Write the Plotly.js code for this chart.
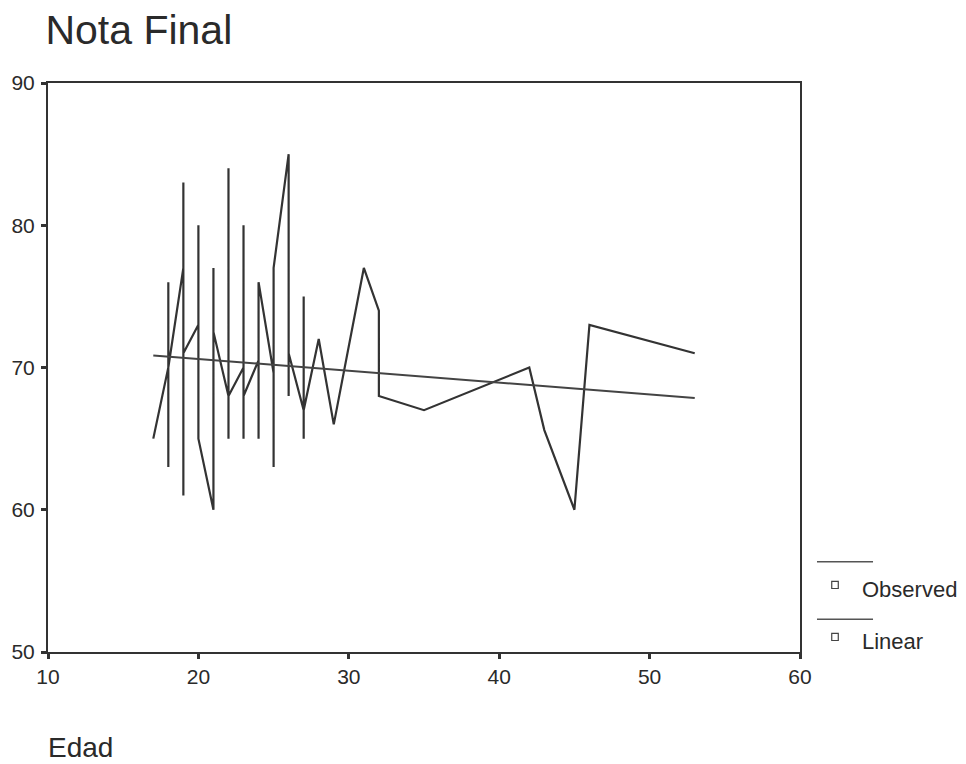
<!DOCTYPE html>
<html>
<head>
<meta charset="utf-8">
<script src="https://cdn.plot.ly/plotly-3.0.1.min.js"></script>
<style>html,body{margin:0;padding:0;background:#fff}#chart{width:966px;height:764px}</style>
</head>
<body>
<div id="chart"></div>
<script>
// Observed path (sorted by Edad; repeated ages form vertical runs)
var obsEdad = [17, 18, 18, 18, 18, 19, 19, 19, 19, 20, 20, 20, 21, 21, 21,
               22, 22, 22, 22, 23, 23, 23, 23, 24, 24, 24, 25, 25, 25,
               26, 26, 26, 27, 27, 27, 27, 28, 29, 31, 32, 32, 35, 42, 43, 45, 46, 53];
var obsNota = [65, 70, 76, 63, 70, 77, 83, 61, 71, 73, 80, 65, 60, 77, 72.5,
               68, 84, 65, 68, 70, 80, 65, 68, 70.5, 65, 76, 69.6, 63, 77,
               85, 68, 71, 67, 75, 65, 67, 72, 66, 77, 74, 68, 67, 70, 65.6, 60, 73, 71];
// Linear fit line
var linEdad = [17, 53];
var linNota = [70.85, 67.85];

var legendNames = ['Observed', 'Linear'];
var fam = 'Liberation Sans, Arial, sans-serif';
var axisFont = {family: fam, size: 21, color: '#2a2a2a'};

var traces = [
  {x: obsEdad, y: obsNota, type: 'scatter', mode: 'lines', name: legendNames[0],
   line: {color: '#333', width: 2.2}, showlegend: false},
  {x: linEdad, y: linNota, type: 'scatter', mode: 'lines', name: legendNames[1],
   line: {color: '#444', width: 2}, showlegend: false}
];

var leg = [
  {line: 0.1587, sq: 0.1178, txt: 0.1107, name: legendNames[0]},
  {line: 0.0575, sq: 0.0264, txt: 0.0176, name: legendNames[1]}
];
var shapes = [], annotations = [];
leg.forEach(function (l) {
  shapes.push({type: 'line', xref: 'paper', yref: 'paper', x0: 1.0226, x1: 1.0971, y0: l.line, y1: l.line,
               line: {color: '#555', width: 1.5}});
  shapes.push({type: 'rect', xref: 'paper', yref: 'paper', x0: 1.0422, x1: 1.0509, y0: l.sq - 0.0062, y1: l.sq + 0.0062,
               line: {color: '#444', width: 1.2}, fillcolor: 'rgba(0,0,0,0)'});
  annotations.push({xref: 'paper', yref: 'paper', x: 1.0798, y: l.txt, xanchor: 'left', yanchor: 'middle',
                    text: l.name, showarrow: false,
                    font: {family: fam, size: 22, color: '#2a2a2a'}});
});
annotations.push({xref: 'paper', yref: 'paper', x: -0.002, y: -0.167, xanchor: 'left', yanchor: 'middle',
                  text: 'Edad', showarrow: false,
                  font: {family: fam, size: 28, color: '#2a2a2a'}});

var layout = {
  width: 966, height: 764,
  paper_bgcolor: '#fff', plot_bgcolor: '#fff',
  margin: {l: 48, r: 166, t: 83, b: 112},
  title: {text: 'Nota Final', xref: 'container', yref: 'container', x: 0.047, xanchor: 'left',
          y: 0.9607, yanchor: 'middle',
          font: {family: fam, size: 41, color: '#2a2a2a'}},
  xaxis: {range: [10, 60], dtick: 10, tick0: 10, showgrid: false, zeroline: false,
          showline: true, mirror: true, linecolor: '#333', linewidth: 2,
          ticks: 'outside', ticklen: 5, tickwidth: 3, tickcolor: '#333', tickfont: axisFont},
  yaxis: {range: [50, 90], dtick: 10, tick0: 50, showgrid: false, zeroline: false,
          showline: true, mirror: true, linecolor: '#333', linewidth: 2,
          ticks: 'outside', ticklen: 5, tickwidth: 3, tickcolor: '#333', tickfont: axisFont,
          ticklabelstandoff: 2},
  shapes: shapes,
  annotations: annotations,
  showlegend: false
};
Plotly.newPlot('chart', traces, layout, {displayModeBar: false, staticPlot: true});
</script>
</body>
</html>
